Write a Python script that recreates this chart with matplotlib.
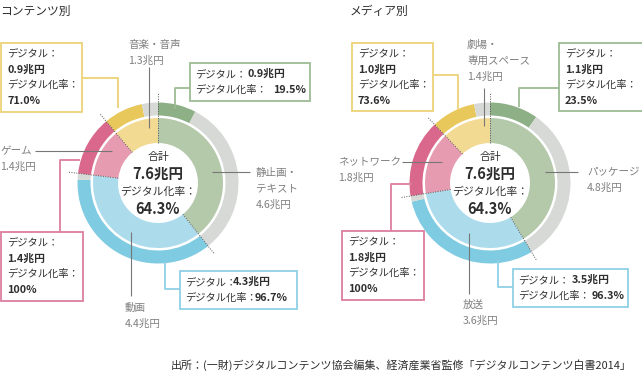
import matplotlib
matplotlib.use('Agg')
import matplotlib.pyplot as plt
import numpy as np
from matplotlib.patches import Rectangle

plt.rcParams['font.family'] = ['Noto Sans CJK JP', 'DejaVu Sans']

# データ (兆円 / %)
content_labels = ['静止画・\nテキスト', '動画', 'ゲーム', '音楽・音声']
content_total = [4.6, 4.4, 1.4, 1.3]
content_digital = [0.9, 4.3, 1.4, 0.9]
content_rate = [19.5, 96.7, 100, 71.0]
content_sum = 7.6
content_sum_rate = 64.3

media_labels = ['パッケージ', '放送', 'ネットワーク', '劇場・\n専用スペース']
media_total = [4.8, 3.6, 1.8, 1.4]
media_digital = [1.1, 3.5, 1.8, 1.0]
media_rate = [23.5, 96.3, 100, 73.6]
media_sum = 7.6
media_sum_rate = 64.3

titles = ['コンテンツ別', 'メディア別']
source = '出所：(一財)デジタルコンテンツ協会編集、経済産業省監修「デジタルコンテンツ白書2014」'

W, H = 642, 385
inner_cols = ['#b4c8aa', '#acdcec', '#e79bb0', '#f2da93']
outer_cols = ['#8db087', '#7fcbe2', '#d9688c', '#e8c85a']
rest_col = '#d6d9d5'
box_cols = ['#9cbb93', '#8fd0e6', '#dd7ea0', '#ecd377']
gray_txt = '#7f7f7f'
dark_txt = '#2e2e2e'

fig = plt.figure(figsize=(W / 100, H / 100), dpi=100)
ax = fig.add_axes([0, 0, 1, 1])


def Y(y):
    return H - y


def fmt_rate(r):
    return '100%' if r == 100 else f'{r:.1f}%'


def donut(cx, cy, total, rate):
    outer = []
    ocols = []
    for t, r, c in zip(total, rate, outer_cols):
        d = t * r / 100
        outer += [d, t - d]
        ocols += [c, rest_col]
    ax.pie(total, colors=inner_cols, radius=65, center=(cx, Y(cy)),
           startangle=90, counterclock=False,
           wedgeprops=dict(width=25, linewidth=0))
    ax.pie(outer, colors=ocols, radius=80.5, center=(cx, Y(cy)),
           startangle=90, counterclock=False,
           wedgeprops=dict(width=13, linewidth=0))
    # 区切りの点線
    bounds = np.concatenate([[0], np.cumsum(total)[:-1]]) / np.sum(total) * 2 * np.pi
    for th in bounds:
        xs = [cx + 40 * np.sin(th), cx + 90 * np.sin(th)]
        ys = [Y(cy - 40 * np.cos(th)), Y(cy - 90 * np.cos(th))]
        ax.plot(xs, ys, color='#555555', lw=0.7, ls=(0, (1, 1.5)))


def center_text(cx, s, r):
    ax.text(cx, Y(157), '合計', ha='center', va='center', fontsize=7.8, color=dark_txt)
    ax.text(cx, Y(174), f'{s}兆円', ha='center', va='center', fontsize=10.5, color=dark_txt, fontweight='bold')
    ax.text(cx, Y(192), 'デジタル化率：', ha='center', va='center', fontsize=7.8, color=dark_txt)
    ax.text(cx, Y(209), fmt_rate(r), ha='center', va='center', fontsize=10.5, color=dark_txt, fontweight='bold')


def label(x, y, name, total):
    lines = name.split('\n') + [f'{total}兆円']
    for i, s in enumerate(lines):
        ax.text(x, Y(y + i * 16), s, ha='left', va='center', fontsize=7.6, color=gray_txt)


def lead(xs, ys, col='#777777', lw=0.8):
    ax.plot(xs, [Y(v) for v in ys], color=col, lw=lw, solid_capstyle='butt')


def box(x0, y0, x1, y1, col):
    ax.add_patch(Rectangle((x0, Y(y1)), x1 - x0, y1 - y0, fill=False, edgecolor=col, lw=1.3))


def box4(x0, y0, x1, y1, col, d, r):
    box(x0, y0, x1, y1, col)
    tx = x0 + 6
    ax.text(tx, Y(y0 + 10), 'デジタル：', fontsize=7.4, va='center', color=dark_txt)
    ax.text(tx, Y(y0 + 27), f'{d}兆円', fontsize=7.8, va='center', color=dark_txt, fontweight='bold')
    ax.text(tx, Y(y0 + 42), 'デジタル化率：', fontsize=7.4, va='center', color=dark_txt)
    ax.text(tx, Y(y0 + 58), fmt_rate(r), fontsize=7.8, va='center', color=dark_txt, fontweight='bold')


def box2(x0, y0, x1, y1, col, d, r, nx):
    box(x0, y0, x1, y1, col)
    tx = x0 + 5
    ax.text(tx, Y(y0 + 11), 'デジタル：', fontsize=7.4, va='center', color=dark_txt)
    ax.text(tx, Y(y0 + 27), 'デジタル化率：', fontsize=7.4, va='center', color=dark_txt)
    ax.text(nx[0], Y(y0 + 11), f'{d}兆円', fontsize=7.8, va='center', color=dark_txt, fontweight='bold')
    ax.text(nx[1], Y(y0 + 27), fmt_rate(r), fontsize=7.8, va='center', color=dark_txt, fontweight='bold')


# --- 左: コンテンツ別 ---
cx = 158
donut(cx, 183, content_total, content_rate)
center_text(cx, content_sum, content_sum_rate)
ax.text(0, Y(11), titles[0], fontsize=8.5, va='center', color=dark_txt)

label(256, 173, content_labels[0], content_total[0])
lead([212, 250], [172, 172])
label(125, 308, content_labels[1], content_total[1])
lead([131, 131], [232, 296])
label(0, 151, content_labels[2], content_total[2])
lead([35, 112], [151, 151])
label(128, 45, content_labels[3], content_total[3])
lead([149, 149], [67, 128])

box2(190, 63, 310, 101, box_cols[0], content_digital[0], content_rate[0], (248, 273))
lead([190, 175, 175], [88, 88, 109], box_cols[0], 1.3)
box2(180, 271, 297, 309, box_cols[1], content_digital[1], content_rate[1], (233, 255))
lead([165, 165, 180], [262, 289, 289], box_cols[1], 1.3)
box4(1, 43, 82, 112, box_cols[3], content_digital[3], content_rate[3])
lead([82, 118, 118], [78, 78, 108], box_cols[3], 1.3)
box4(1, 232, 83, 301, box_cols[2], content_digital[2], content_rate[2])
lead([80, 60, 60], [160, 160, 232], box_cols[2], 1.3)

# --- 右: メディア別 ---
cx = 490
donut(cx, 183, media_total, media_rate)
center_text(cx, media_sum, media_sum_rate)
ax.text(350, Y(11), titles[1], fontsize=8.5, va='center', color=dark_txt)

label(587, 172, media_labels[0], media_total[0])
lead([545, 578], [172, 172])
label(463, 305, media_labels[1], media_total[1])
lead([469, 469], [233, 294])
label(338, 162, media_labels[2], media_total[2])
lead([402, 442], [162, 162])
label(467, 45, media_labels[3], media_total[3])
lead([484, 484], [88, 126])

box4(559, 43, 643, 111, box_cols[0], media_digital[0], media_rate[0])
lead([559, 519, 519], [88, 88, 107], box_cols[0], 1.3)
box2(513, 269, 628, 307, box_cols[1], media_digital[1], media_rate[1], (572, 592))
lead([498, 498, 513], [260, 287, 287], box_cols[1], 1.3)
box4(352, 43, 433, 111, box_cols[3], media_digital[3], media_rate[3])
lead([433, 458, 458], [75, 75, 110], box_cols[3], 1.3)
box4(342, 231, 424, 300, box_cols[2], media_digital[2], media_rate[2])
lead([412, 391, 391], [184, 184, 231], box_cols[2], 1.3)

ax.text(632, Y(365), source, ha='right', va='center', fontsize=7.9, color=dark_txt)

ax.set_xlim(0, W)
ax.set_ylim(0, H)
ax.set_aspect('equal')
ax.axis('off')
fig.savefig('out.png', dpi=100)
